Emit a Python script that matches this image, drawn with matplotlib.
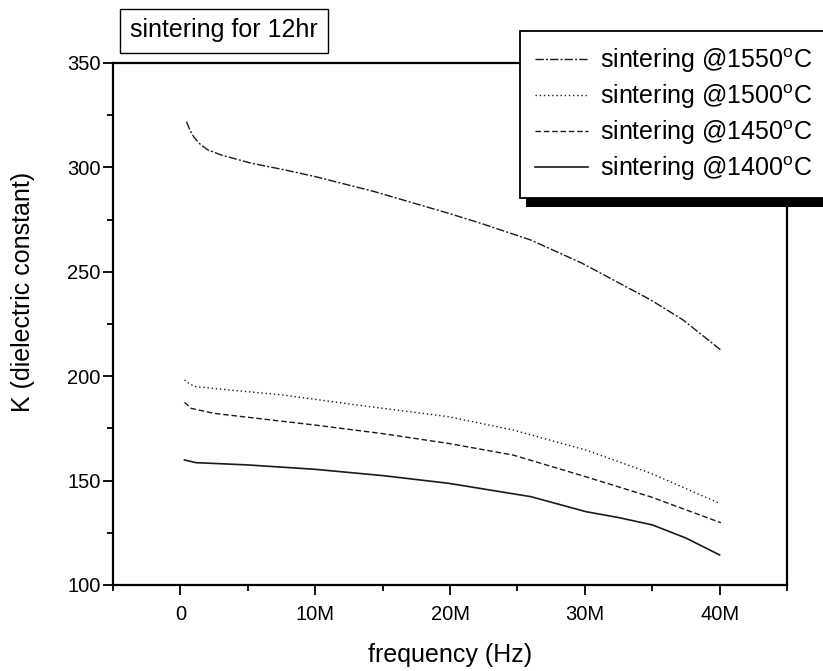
import numpy as np
import matplotlib
matplotlib.use("Agg")
import matplotlib.pyplot as plt
from matplotlib.patches import Rectangle
from matplotlib.ticker import MultipleLocator, FuncFormatter

plt.rcParams["font.family"] = ["Liberation Sans", "DejaVu Sans"]

# frequency in MHz, K
f_1550 = [0.45, 0.7, 1.0, 1.4, 2.0, 3.0, 5.25, 7.6, 10.0, 14.4, 19.9, 22.3, 26.0, 29.8, 34.9, 37.3, 40.1]
k_1550 = [321.9, 318.0, 314.5, 311.5, 308.5, 306.0, 302.0, 299.0, 295.6, 288.4, 278.0, 273.2, 265.2, 254.1, 236.5, 226.9, 212.5]

f_1500 = [0.3, 0.7, 1.15, 3.0, 7.6, 13.1, 19.9, 24.7, 30.1, 34.9, 40.0]
k_1500 = [198.2, 196.2, 195.0, 193.8, 191.0, 186.2, 180.6, 174.2, 164.6, 153.5, 139.1]

f_1450 = [0.3, 0.8, 2.5, 10.0, 15.0, 19.9, 24.7, 30.1, 34.9, 40.1]
k_1450 = [187.5, 184.6, 182.2, 176.6, 172.5, 167.8, 162.2, 151.8, 142.2, 129.8]

f_1400 = [0.3, 1.15, 5.0, 10.0, 15.0, 19.9, 26.0, 30.1, 32.5, 35.0, 37.5, 40.0]
k_1400 = [159.9, 158.6, 157.5, 155.4, 152.4, 148.7, 142.3, 135.1, 132.3, 128.8, 122.5, 114.4]

labels = ["sintering @1550$\\mathregular{^o}$C", "sintering @1500$\\mathregular{^o}$C",
          "sintering @1450$\\mathregular{^o}$C", "sintering @1400$\\mathregular{^o}$C"]

W, H = 823, 671
fig = plt.figure(figsize=(W / 100, H / 100), dpi=100)
ax = fig.add_axes([113 / W, 1 - 585 / H, (787 - 113) / W, (585 - 63) / H])

col = "#1a1a1a"
ax.plot(f_1550, k_1550, color=col, lw=1.0, ls=(0, (6, 1.5, 1.5, 1.5)), label=labels[0])
ax.plot(f_1500, k_1500, color=col, lw=1.0, ls=(0, (1, 2)), label=labels[1])
ax.plot(f_1450, k_1450, color=col, lw=1.0, ls=(0, (4, 2)), label=labels[2])
ax.plot(f_1400, k_1400, color=col, lw=1.2, ls="-", label=labels[3])

ax.set_xlim(-5, 45)
ax.set_ylim(100, 350)
ax.xaxis.set_major_locator(MultipleLocator(10))
ax.xaxis.set_minor_locator(MultipleLocator(5))
ax.yaxis.set_major_locator(MultipleLocator(50))
ax.yaxis.set_minor_locator(MultipleLocator(25))
ax.xaxis.set_major_formatter(FuncFormatter(lambda v, p: "0" if v == 0 else f"{int(v)}M"))
ax.tick_params(which="major", direction="out", length=7, width=1.3, labelsize=14.5)
ax.tick_params(which="minor", direction="out", length=4, width=1.3)
ax.tick_params(axis="x", which="major", pad=7.5)
ax.tick_params(axis="y", which="major", pad=2)
for s in ax.spines.values():
    s.set_linewidth(1.6)

fig.text(450 / W, 1 - 662 / H, "frequency (Hz)", fontsize=18, ha="center", va="baseline")
fig.text(23 / W, 1 - 292 / H, "K (dielectric constant)", fontsize=18, rotation=90,
         ha="center", va="center")

leg = ax.legend(loc="upper left", bbox_to_anchor=(520 / W, 1 - 195 / H, (840 - 520) / W, (195 - 31) / H),
                bbox_transform=fig.transFigure, mode="expand", borderaxespad=0, fontsize=18,
                frameon=True, fancybox=False, framealpha=1, edgecolor="black",
                handlelength=2.1, handletextpad=0.48, labelspacing=0.3, borderpad=0.6)
leg.get_frame().set_linewidth(1.3)
leg.set_zorder(6)

fig.canvas.draw()
bb = leg.get_window_extent()
shadow = Rectangle((bb.x0 + 6, bb.y0 - 9), bb.width, bb.height,
                   transform=None, facecolor="black", edgecolor="none",
                   clip_on=False, zorder=5.5)
ax.add_patch(shadow)

fig.text(130 / W, 1 - 30.5 / H, "sintering for 12hr", fontsize=18,
         ha="left", va="center",
         bbox=dict(boxstyle="square,pad=0.4", facecolor="white", edgecolor="black", lw=1.0))

fig.savefig("out.png", dpi=100)
